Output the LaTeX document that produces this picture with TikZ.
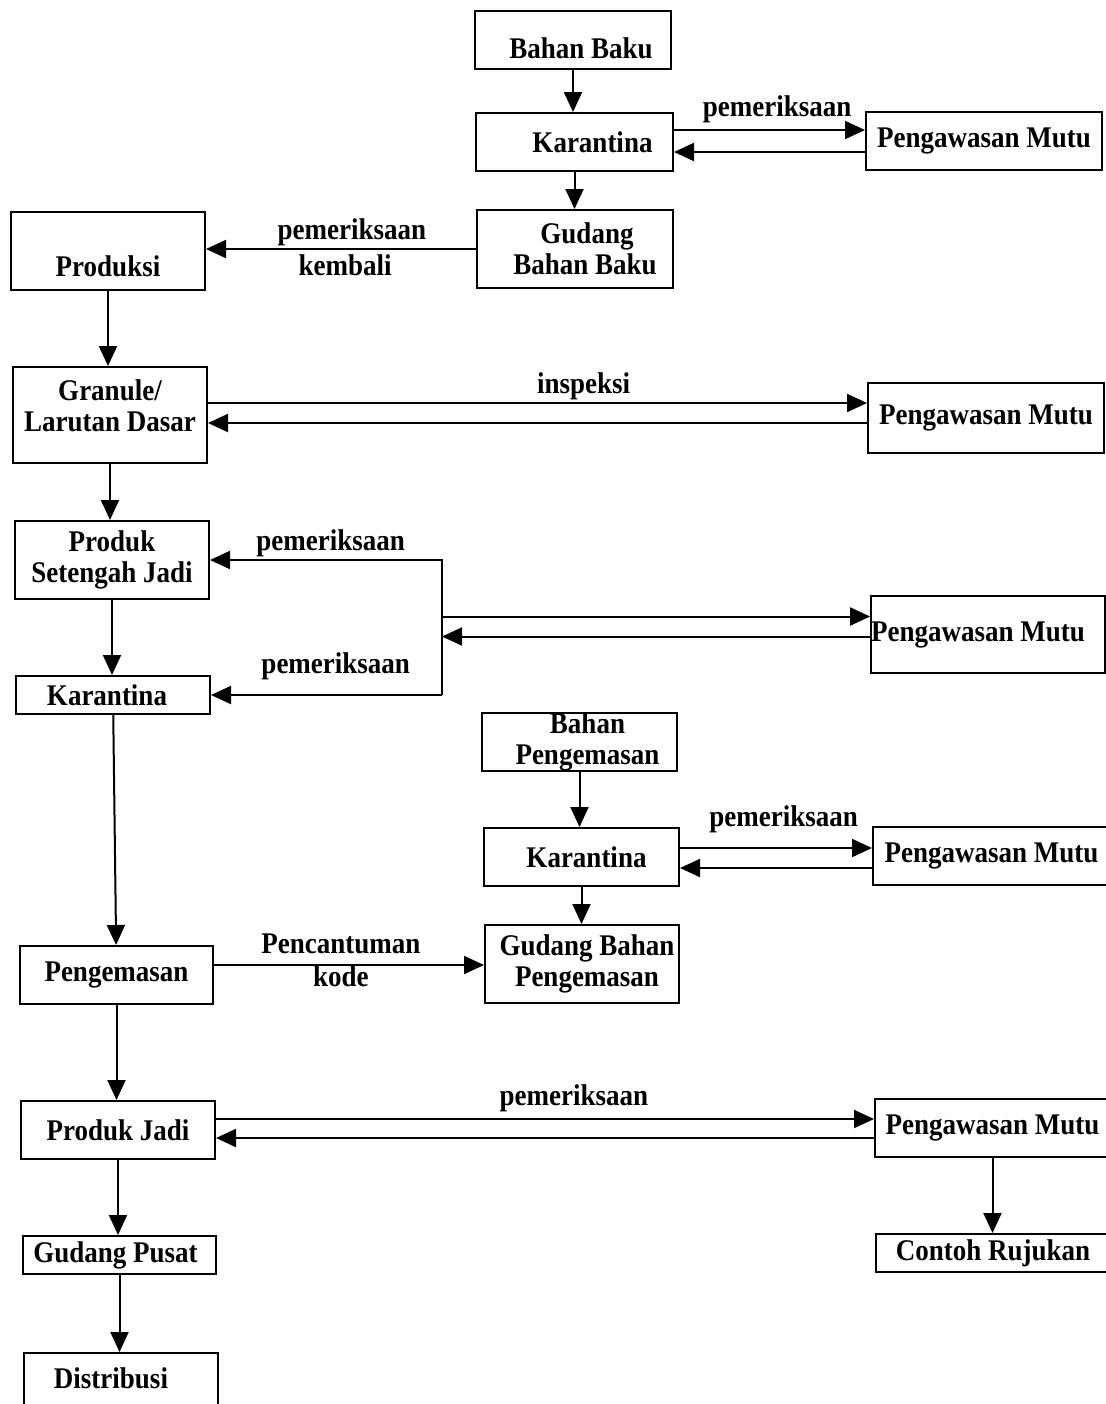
\documentclass[tikz,border=0pt]{standalone}
\usepackage{fontspec}
\setmainfont[FakeStretch=0.9]{Liberation Serif}
\usepackage{tikz}
\usetikzlibrary{positioning,arrows.meta}

\tikzset{
    box/.style={draw, line width=1pt, inner sep=0pt, align=center,
        font=\bfseries\fontsize{15}{15.5}\selectfont},
    lbl/.style={inner sep=1pt, font=\bfseries\fontsize{15}{15.5}\selectfont},
    arr/.style={line width=1pt, -{Triangle[length=10pt,width=9pt]}},
}

\begin{document}
\begin{tikzpicture}[x=0.5pt,y=-0.5pt]
    % 
    \useasboundingbox[fill=white] (0,0) rectangle (1106,1404);

    % bahan baku
    \node[box, minimum width=98pt, minimum height=29pt, text height=18pt, text depth=0pt] (bb) at (573,40) {\hspace*{8pt}Bahan Baku};
    \node[box, minimum width=98.5pt, minimum height=29pt] (kar1) at (574.5,142) {\hspace*{18pt}Karantina};
    \node[box, minimum width=118pt, minimum height=29pt] (pm1) at (984,141) {Pengawasan Mutu};
    \node[box, minimum width=98pt, minimum height=39pt] (gbb) at (575,249) {\hspace*{12pt}Gudang\\\hspace*{10pt}Bahan Baku};

    % produksi
    \node[box, minimum width=97pt, minimum height=39pt, text height=25pt, text depth=0pt] (prod) at (108,251) {Produksi};
    \node[box, minimum width=97pt, minimum height=48pt] (gran) at (110,415) {Granule/\\Larutan Dasar\\[-6.5pt]{}};
    \node[box, minimum width=118pt, minimum height=35pt] (pm2) at (986,418) {Pengawasan Mutu};
    \node[box, minimum width=97pt, minimum height=39pt] (psj) at (112,560) {Produk\\Setengah Jadi};
    \node[box, minimum width=97pt, minimum height=19pt] (kar2) at (113,695) {Karantina\hspace*{6pt}};
    \node[box, minimum width=116pt, minimum height=38.5pt] (pm3) at (988,634.5) {Pengawasan Mutu\hspace*{10pt}};
    \coordinate (brk) at (442,627);

    % bahan pengemasan
    \node[box, minimum width=97.5pt, minimum height=29pt] (bpk) at (579.5,742) {\hspace*{8pt}Bahan\\\hspace*{8pt}Pengemasan};
    \node[box, minimum width=97.5pt, minimum height=29pt] (kar3) at (581.5,857) {\hspace*{5pt}Karantina};
    \node[box, minimum width=118.5pt, minimum height=29pt] (pm4) at (991.5,856) {Pengawasan Mutu};
    \node[box, minimum width=97pt, minimum height=39pt] (gbp) at (582,964) {\hspace*{5pt}Gudang Bahan\\\hspace*{5pt}Pengemasan};

    % pengemasan
    \node[box, minimum width=96.5pt, minimum height=29pt] (peng) at (116.5,975) {Pengemasan};
    \node[box, minimum width=97pt, minimum height=29pt] (pj) at (118,1130) {Produk Jadi};
    \node[box, minimum width=117.5pt, minimum height=29pt] (pm5) at (992.5,1128) {Pengawasan Mutu};
    \node[box, minimum width=117pt, minimum height=19pt] (cr) at (993,1253) {Contoh Rujukan};
    \node[box, minimum width=96.5pt, minimum height=19pt] (gp) at (119.5,1255) {Gudang Pusat\hspace*{4pt}};
    \node[box, minimum width=97pt, minimum height=31pt, text depth=6pt] (dist) at (121,1384) {Distribusi\hspace*{10pt}};

    % 
    \draw[arr] (bb.south) -- (bb.south |- kar1.north);
    \draw[arr] (kar1.south) -- (kar1.south |- gbb.north);
    \draw[arr] ([yshift=6pt]kar1.east) -- ([yshift=6pt]kar1.east -| pm1.west)
        node[lbl, pos=0.54, above=2pt] (l1) {pemeriksaan};
    \draw[arr] ([yshift=-5pt]kar1.east -| pm1.west) -- ([yshift=-5pt]kar1.east);
    \draw[arr] (gbb.west) -- (gbb.west -| prod.east)
        node[lbl, pos=0.46, above=0pt] (l2) {pemeriksaan}
        node[lbl, pos=0.485, below=1.5pt] (l3) {kembali};

    % 
    \draw[arr] (prod.south) -- (prod.south |- gran.north);
    \draw[arr] ([yshift=6pt]gran.east) -- ([yshift=6pt]gran.east -| pm2.west)
        node[lbl, pos=0.57, above=0pt] (l4) {inspeksi};
    \draw[arr] ([yshift=-4pt]gran.east -| pm2.west) -- ([yshift=-4pt]gran.east);
    \draw[arr] (gran.south) -- (gran.south |- psj.north);
    \draw[arr] (psj.south) -- (psj.south |- kar2.north);

    % 
    \draw[arr] (kar2.east -| brk) -- (psj.east -| brk) -- (psj.east)
        node[lbl, pos=0.48, above=0pt] (l5) {pemeriksaan};
    \draw[arr] (kar2.east -| brk) -- (kar2.east)
        node[lbl, pos=0.46, above=6pt] (l6) {pemeriksaan};
    \draw[arr] ([yshift=9pt]pm3.west -| brk) -- ([yshift=9pt]pm3.west);
    \draw[arr] ([yshift=-1pt]pm3.west) -- ([yshift=-1pt]pm3.west -| brk);
    \draw[arr] (kar2) -- (peng);

    % 
    \draw[arr] (bpk.south) -- (bpk.south |- kar3.north);
    \draw[arr] ([yshift=4.5pt]kar3.east) -- ([yshift=4.5pt]kar3.east -| pm4.west)
        node[lbl, pos=0.54, above=6pt] (l7) {pemeriksaan};
    \draw[arr] ([yshift=-5.5pt]kar3.east -| pm4.west) -- ([yshift=-5.5pt]kar3.east);
    \draw[arr] (kar3.south) -- (kar3.south |- gbp.north);
    \draw[arr] ([yshift=5pt]peng.east) -- ([yshift=5pt]peng.east -| gbp.west)
        node[lbl, pos=0.47, above=4pt] (l8) {Pencantuman}
        node[lbl, pos=0.47, below=-1pt] (l9) {kode};

    % 
    \draw[arr] (peng.south) -- (peng.south |- pj.north);
    \draw[arr] ([yshift=5.5pt]pj.east) -- ([yshift=5.5pt]pj.east -| pm5.west)
        node[lbl, pos=0.544, above=2pt] (l10) {pemeriksaan};
    \draw[arr] ([yshift=-4pt]pj.east -| pm5.west) -- ([yshift=-4pt]pj.east);
    \draw[arr] (pm5.south) -- (pm5.south |- cr.north);
    \draw[arr] (pj.south) -- (pj.south |- gp.north);
    \draw[arr] (gp.south) -- (gp.south |- dist.north);
\end{tikzpicture}
\end{document}
